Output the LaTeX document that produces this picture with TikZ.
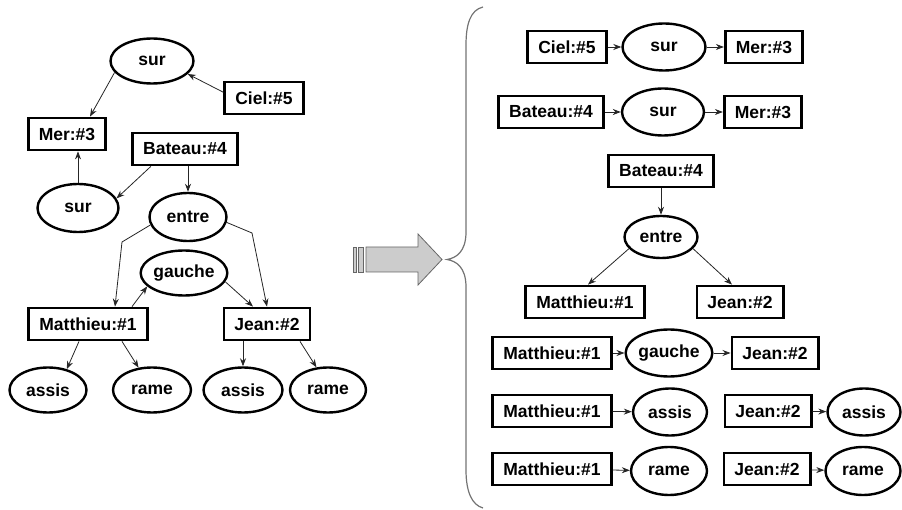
\documentclass[tikz,border=0pt]{standalone}
\usepackage{fontspec}
\setmainfont{Liberation Sans}
\usetikzlibrary{shapes.geometric,arrows.meta,calc}
\tikzset{
  box/.style={draw=black,line width=2.8pt,rectangle,inner xsep=10.5pt,inner ysep=0pt,minimum height=32pt,font=\fontsize{17.5}{20}\selectfont\bfseries},
  ell/.style={draw=black,line width=2.4pt,ellipse,inner sep=0pt,font=\fontsize{17.5}{20}\selectfont\bfseries},
  arr/.style={draw=black!85,line width=0.8pt,-{Stealth[length=8pt,width=6pt]}},
  bigarrow/.style={draw=black!60,line width=0.8pt,fill=black!20},
  brace/.style={draw=black!55,line width=1.2pt}
}
\begin{document}
\begin{tikzpicture}[x=1pt,y=-1pt]
\useasboundingbox (0,0) rectangle (902,510);
% ---------- left graph ----------
\node[ell,minimum width=83pt,minimum height=45pt] (sur1) at (152,61) {sur};
\node[box] (ciel1) at (264,98) {Ciel:\#5};
\node[box] (mer1) at (67,134) {Mer:\#3};
\node[box] (bat1) at (185,149) {Bateau:\#4};
\node[ell,minimum width=81pt,minimum height=48pt] (sur2) at (78,208) {sur};
\node[ell,minimum width=77pt,minimum height=48pt] (entre1) at (188,217) {entre};
\node[ell,minimum width=85pt,minimum height=45pt] (gauche1) at (184,273) {gauche};
\node[box] (matt1) at (88,324) {Matthieu:\#1};
\node[box] (jean1) at (267,324) {Jean:\#2};
\node[ell,minimum width=77pt,minimum height=45pt] (assis1) at (48,390) {assis};
\node[ell,minimum width=78pt,minimum height=45pt] (rame1) at (152,390) {rame};
\node[ell,minimum width=79pt,minimum height=45pt] (assis2) at (243,390) {assis};
\node[ell,minimum width=76pt,minimum height=45pt] (rame2) at (328,390) {rame};

\draw[arr] (sur1.197) -- ($(mer1.north)+(23,0)$);
\draw[arr] (ciel1.172) -- (sur1.-20);
\draw[arr] (sur2) -- (sur2 |- mer1.south);
\draw[arr] (bat1.207) -- (sur2.14);
\draw[arr] (entre1 |- bat1.south) -- (entre1);
\coordinate (bendL) at (122,242);
\coordinate (bendR) at (252,233);
\draw[arr] (entre1.192) -- (bendL) -- ($(matt1.north)+(27,0)$);
\draw[arr] (entre1.-8) -- (bendR) -- (jean1.north);
\draw[arr] ($(matt1.north)+(44,0)$) -- (gauche1.200);
\draw[arr] (gauche1.-12) -- ($(jean1.north)+(-14,0)$);
\draw[arr] ($(matt1.south)+(-9,0)$) -- (assis1.48);
\draw[arr] ($(matt1.south)+(34,0)$) -- (rame1.121);
\draw[arr] (assis2 |- jean1.south) -- (assis2);
\draw[arr] ($(jean1.south)+(33,0)$) -- (rame2.117);

% ---------- big arrow ----------
\path[bigarrow] (353,247) rectangle (356,272);
\path[bigarrow] (358.5,247) rectangle (363,272);
\path[bigarrow] (366,247) -- (418,247) -- (418,234) -- (442,259.5) -- (418,285) -- (418,272) -- (366,272) -- cycle;

% ---------- brace ----------
\draw[brace] (483,7) .. controls (470,10) and (466,25) .. (466,45) -- (466,232)
  .. controls (466,252) and (456,258) .. (447,259.5)
  .. controls (456,261) and (466,267) .. (466,287) -- (466,470)
  .. controls (466,492) and (472,505) .. (483,508);

% ---------- right side ----------
\node[box] (ciel2) at (567,47) {Ciel:\#5};
\node[ell,minimum width=83pt,minimum height=47pt] (sur3) at (664,47) {sur};
\node[box] (mer2) at (764,47) {Mer:\#3};
\draw[arr] (ciel2) -- (sur3);
\draw[arr] (sur3) -- (mer2);

\node[box] (bat2) at (551,112) {Bateau:\#4};
\node[ell,minimum width=82pt,minimum height=47pt] (sur4) at (663,112) {sur};
\node[box] (mer3) at (763,112) {Mer:\#3};
\draw[arr] (bat2) -- (sur4);
\draw[arr] (sur4) -- (mer3);

\node[box] (bat3) at (661,171) {Bateau:\#4};
\node[ell,minimum width=73pt,minimum height=42pt] (entre2) at (661,237) {entre};
\node[box] (matt2) at (585,302) {Matthieu:\#1};
\node[box] (jean2) at (740,302) {Jean:\#2};
\draw[arr] (bat3) -- (entre2);
\draw[arr] (entre2.200) -- ($(matt2.north)+(3,0)$);
\draw[arr] (entre2.-20) -- ($(jean2.north)+(-8,0)$);

\node[box] (matt3) at (552,353) {Matthieu:\#1};
\node[ell,minimum width=83pt,minimum height=47pt] (gauche2) at (669,353) {gauche};
\node[box] (jean3) at (775,353) {Jean:\#2};
\draw[arr] (matt3) -- (gauche2);
\draw[arr] (gauche2) -- (jean3);

\node[box] (matt4) at (552,411) {Matthieu:\#1};
\node[ell,minimum width=74pt,minimum height=47pt] (assis3) at (670,412) {assis};
\node[box] (jean4) at (768,411) {Jean:\#2};
\node[ell,minimum width=73pt,minimum height=47pt] (assis4) at (864,412) {assis};
\draw[arr] (matt4) -- (assis3);
\draw[arr] (jean4) -- (assis4);

\node[box] (matt5) at (552,469) {Matthieu:\#1};
\node[ell,minimum width=76pt,minimum height=48pt] (rame3) at (669,471) {rame};
\node[box] (jean5) at (767,469) {Jean:\#2};
\node[ell,minimum width=75pt,minimum height=48pt] (rame4) at (863,471) {rame};
\draw[arr] (matt5) -- (rame3);
\draw[arr] (jean5) -- (rame4);
\end{tikzpicture}
\end{document}
